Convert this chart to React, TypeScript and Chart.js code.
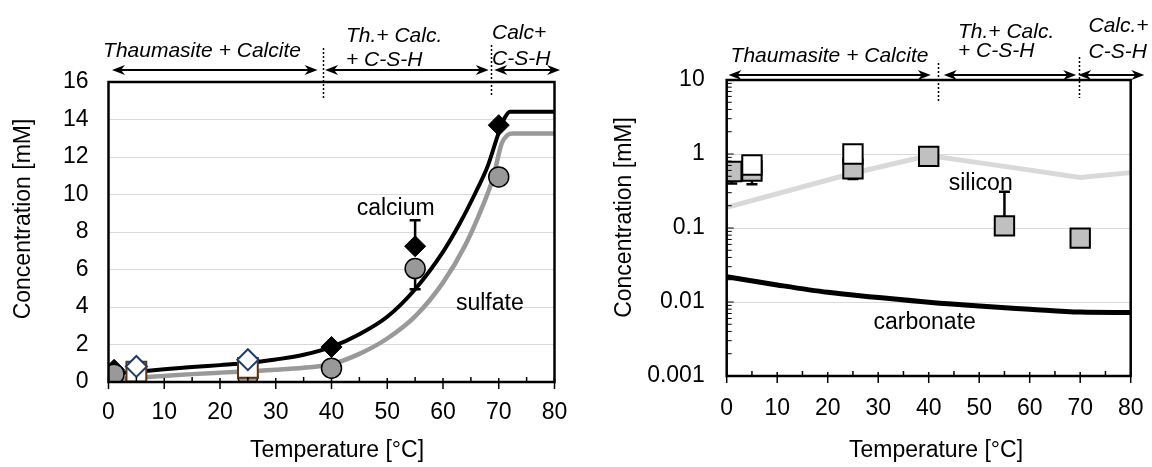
import React, { useEffect, useRef } from 'react';
import { Chart, registerables } from 'chart.js';

Chart.register(...registerables);

const FONT = "'Liberation Sans', Arial, Helvetica, sans-serif";

// ---------------- Left chart data (linear) ----------------
const caModelT = [0, 2, 5, 10, 15, 20, 25, 30, 35, 40, 45, 50, 55, 60, 63, 66, 68, 70, 71, 72, 80];
const caModelC = [0.42, 0.48, 0.55, 0.68, 0.8, 0.9, 1.01, 1.2, 1.45, 1.87, 2.55, 3.48, 4.95, 6.94, 8.45, 10.2, 11.5, 13.3, 14.05, 14.42, 14.42];
const so4ModelT = [0, 2, 5, 10, 15, 20, 25, 30, 35, 40, 45, 50, 55, 60, 64, 67, 69, 70.5, 71.5, 72.5, 80];
const so4ModelC = [0.12, 0.15, 0.22, 0.32, 0.42, 0.5, 0.57, 0.65, 0.76, 0.95, 1.5, 2.32, 3.5, 5.3, 7.3, 9.3, 10.9, 12.7, 13.15, 13.25, 13.25];
const caMeasT = [1, 40, 55, 70];
const caMeasC = [0.65, 1.87, 7.24, 13.7];
const so4MeasT = [1, 5, 25, 40, 55, 70];
const so4MeasC = [0.42, 0.2, 0.3, 0.74, 6.05, 10.94];
const openDiamondT = [5, 25];
const openDiamondC = [0.83, 1.19];
const openSquareT = [5, 25];
const openSquareC = [0.55, 0.75];
const leftErrT = [55, 55];
const leftErrFrom = [7.24, 6.05];
const leftErrTo = [8.63, 4.95];
const leftYTicks = [0, 2, 4, 6, 8, 10, 12, 14, 16];

// ---------------- Right chart data (log) ----------------
const siModelT = [0, 25, 40, 55, 70, 80];
const siModelC = [0.19, 0.55, 0.95, 0.68, 0.48, 0.56];
const co3ModelT = [0, 10, 20, 30, 40, 50, 60, 70, 80];
const co3ModelC = [0.022, 0.017, 0.0135, 0.0115, 0.0099, 0.0088, 0.008, 0.0073, 0.0072];
const siGreyT = [1, 5, 25, 40, 55, 70];
const siGreyC = [0.58, 0.59, 0.63, 0.93, 0.107, 0.073];
const siWhiteT = [5, 25];
const siWhiteC = [0.71, 1.0];
const rightErrT = [1, 5, 25, 55];
const rightErrFrom = [0.58, 0.59, 0.63, 0.107];
const rightErrTo = [0.4, 0.39, 0.46, 0.31];
const rightYTicks = [0.001, 0.01, 0.1, 1, 10];
const rightYTickLabels = ['0.001', '0.01', '0.1', '1', '10'];

const tempTicks = [0, 10, 20, 30, 40, 50, 60, 70, 80];

// phase annotations
const leftPhaseBounds = [38.53, 68.65];
const leftArrowSpans = [[0.63, 37.5], [38.85, 68.2], [69.2, 81.0]];
const leftPhaseText = [['Thaumasite + Calcite'], ['Th.+ Calc.', '+ C-S-H'], ['Calc+', 'C-S-H']];
const rightPhaseBounds = [41.9, 69.74];
const rightArrowSpans = [[0.36, 40.4], [43.0, 69.2], [69.6, 82.7]];
const rightPhaseText = [['Thaumasite + Calcite'], ['Th.+ Calc.', '+ C-S-H'], ['Calc.+', 'C-S-H']];

// curve labels
const leftCurveLabels = ['calcium', 'sulfate'];
const leftCurveLabelT = [51.5, 68.4];
const leftCurveLabelC = [9.26, 4.2];
const rightCurveLabels = ['silicon', 'carbonate'];
const rightCurveLabelT = [50.3, 39.2];
const rightCurveLabelC = [0.397, 0.00525];

const pts = (xs: number[], ys: number[]) => xs.map((x, i) => ({ x, y: ys[i] }));

type Layout = {
  padTop: number; padRight: number; yWidth: number; xHeight: number; xLabelPad: number;
  yTitle: { x: number; y: number }; xTitle: { x: number; y: number };
  arrowY: number; dots: [number, number][];
  textPos: { x: number; align: CanvasTextAlign; ys: number[] }[];
  logMinor: boolean;
};

function arrowHead(ctx: CanvasRenderingContext2D, x: number, y: number, dir: number) {
  const L = 13, W = 5, N = 4;
  ctx.beginPath();
  ctx.moveTo(x, y);
  ctx.lineTo(x - dir * L, y - W);
  ctx.lineTo(x - dir * (L - N), y);
  ctx.lineTo(x - dir * L, y + W);
  ctx.closePath();
  ctx.fill();
}

function makeDecor(opts: {
  layout: Layout;
  errT: number[]; errFrom: number[]; errTo: number[];
  bounds: number[]; spans: number[][]; phaseText: string[][];
  labels: string[]; labelT: number[]; labelC: number[];
}) {
  const L = opts.layout;
  return {
    id: 'decor',
    beforeDatasetsDraw(chart: any) {
      const ctx: CanvasRenderingContext2D = chart.ctx;
      const xs = chart.scales.x, ys = chart.scales.y;
      ctx.save();
      ctx.strokeStyle = '#000';
      ctx.lineWidth = 2.5;
      opts.errT.forEach((t, i) => {
        const px = xs.getPixelForValue(t);
        const p1 = ys.getPixelForValue(opts.errFrom[i]);
        const p2 = ys.getPixelForValue(opts.errTo[i]);
        ctx.beginPath();
        ctx.moveTo(px, p1); ctx.lineTo(px, p2);
        ctx.moveTo(px - 5.5, p2); ctx.lineTo(px + 5.5, p2);
        ctx.stroke();
      });
      ctx.restore();
    },
    afterDatasetsDraw(chart: any) {
      const ctx: CanvasRenderingContext2D = chart.ctx;
      const xs = chart.scales.x, ys = chart.scales.y;
      ctx.save();
      ctx.fillStyle = '#000';
      ctx.font = `23px ${FONT}`;
      ctx.textAlign = 'center';
      ctx.textBaseline = 'middle';
      opts.labels.forEach((s, i) => {
        ctx.fillText(s, xs.getPixelForValue(opts.labelT[i]), ys.getPixelForValue(opts.labelC[i]));
      });
      ctx.restore();
    },
    afterDraw(chart: any) {
      const ctx: CanvasRenderingContext2D = chart.ctx;
      const a = chart.chartArea;
      const xs = chart.scales.x, ys = chart.scales.y;
      ctx.save();
      // box
      ctx.strokeStyle = '#000';
      ctx.lineWidth = 2.5;
      ctx.strokeRect(a.left, a.top, a.right - a.left, a.bottom - a.top);
      // x ticks
      ctx.lineWidth = 1.5;
      for (let t = 0; t <= 80; t += 5) {
        const px = xs.getPixelForValue(t);
        ctx.beginPath();
        if (t % 10 === 0) { ctx.moveTo(px, a.bottom - 4); ctx.lineTo(px, a.bottom + 7); }
        else { ctx.moveTo(px, a.bottom - 5); ctx.lineTo(px, a.bottom); }
        ctx.stroke();
      }
      // log minor ticks
      if (L.logMinor) {
        ctx.lineWidth = 1;
        for (let d = 0; d < rightYTicks.length - 1; d++) {
          for (let k = 1; k <= 9; k++) {
            const py = ys.getPixelForValue(rightYTicks[d] * k);
            ctx.beginPath();
            ctx.moveTo(a.left, py); ctx.lineTo(a.left + (k === 1 ? 7 : 5), py);
            ctx.stroke();
          }
        }
      }
      // axis titles
      ctx.fillStyle = '#000';
      ctx.font = `23px ${FONT}`;
      ctx.textAlign = 'center';
      ctx.textBaseline = 'middle';
      ctx.fillText('Temperature [°C]', L.xTitle.x, L.xTitle.y);
      ctx.save();
      ctx.translate(L.yTitle.x, L.yTitle.y);
      ctx.rotate(-Math.PI / 2);
      ctx.fillText('Concentration [mM]', 0, 0);
      ctx.restore();
      // phase boundaries (dotted)
      ctx.lineWidth = 1.5;
      ctx.setLineDash([2, 2]);
      opts.bounds.forEach((b, i) => {
        const px = Math.round(xs.getPixelForValue(b)) + 0.5;
        ctx.beginPath();
        ctx.moveTo(px, L.dots[i][0]); ctx.lineTo(px, L.dots[i][1]);
        ctx.stroke();
      });
      ctx.setLineDash([]);
      // arrows
      ctx.lineWidth = 2;
      opts.spans.forEach(([s, e]) => {
        const x1 = xs.getPixelForValue(s), x2 = xs.getPixelForValue(e);
        ctx.beginPath();
        ctx.moveTo(x1 + 5, L.arrowY); ctx.lineTo(x2 - 5, L.arrowY);
        ctx.stroke();
        arrowHead(ctx, x1, L.arrowY, -1);
        arrowHead(ctx, x2, L.arrowY, 1);
      });
      // phase text
      ctx.font = `italic 21px ${FONT}`;
      ctx.textBaseline = 'alphabetic';
      opts.phaseText.forEach((lines, i) => {
        const p = L.textPos[i];
        ctx.textAlign = p.align;
        lines.forEach((s, j) => ctx.fillText(s, p.x, p.ys[j]));
      });
      ctx.restore();
    },
  };
}

function baseOptions(L: Layout, yScale: any) {
  return {
    responsive: false,
    animation: false,
    devicePixelRatio: 1,
    events: [],
    layout: { padding: { top: L.padTop, right: L.padRight, left: 0, bottom: 0 } },
    plugins: { legend: { display: false }, tooltip: { enabled: false } },
    scales: {
      x: {
        type: 'linear', min: 0, max: 80,
        afterBuildTicks: (s: any) => { s.ticks = tempTicks.map((v) => ({ value: v })); },
        ticks: { font: { family: FONT, size: 23 }, color: '#000', padding: L.xLabelPad, maxRotation: 0, autoSkip: false },
        grid: { display: false },
        border: { display: false },
        afterFit: (s: any) => { s.height = L.xHeight; s.paddingLeft = 0; s.paddingRight = 0; },
      },
      y: {
        ...yScale,
        grid: { color: '#d9d9d9', lineWidth: 1, drawTicks: false },
        border: { display: false },
        afterFit: (s: any) => { s.width = L.yWidth; s.paddingTop = 0; s.paddingBottom = 0; },
      },
    },
  };
}

const leftLayout: Layout = {
  padTop: 82, padRight: 21.5, yWidth: 108.5, xHeight: 85, xLabelPad: 8.5,
  yTitle: { x: 24, y: 219 }, xTitle: { x: 337, y: 451 },
  arrowY: 70, dots: [[48, 98], [45, 95]],
  textPos: [
    { x: 202, align: 'center', ys: [56.5] },
    { x: 346, align: 'left', ys: [41.5, 65.5] },
    { x: 492, align: 'left', ys: [38.5, 65] },
  ],
  logMinor: false,
};

const rightLayout: Layout = {
  padTop: 80, padRight: 21.3, yWidth: 150.7, xHeight: 91, xLabelPad: 11,
  yTitle: { x: 48.7, y: 217.5 }, xTitle: { x: 360, y: 451 },
  arrowY: 75, dots: [[63, 103], [57, 98]],
  textPos: [
    { x: 253.5, align: 'center', ys: [61.5] },
    { x: 382, align: 'left', ys: [38, 57] },
    { x: 512.5, align: 'left', ys: [31.5, 58] },
  ],
  logMinor: true,
};

function LeftChart() {
  const ref = useRef<HTMLCanvasElement>(null);
  useEffect(() => {
    const c = ref.current!;
    const chart = new Chart(c, {
      type: 'scatter',
      data: {
        datasets: [
          { label: 'open diamond', data: pts(openDiamondT, openDiamondC), pointStyle: 'rectRot', pointRadius: 10.5, backgroundColor: '#ffffff', borderColor: '#1f3d6b', borderWidth: 2, order: 1 },
          { label: 'open square', data: pts(openSquareT, openSquareC), pointStyle: 'rect', pointRadius: 14, backgroundColor: '#ffffff', borderColor: '#5c3310', borderWidth: 2, order: 2 },
          { label: 'sulfate measured', data: pts(so4MeasT, so4MeasC), pointStyle: 'circle', pointRadius: 10, backgroundColor: '#999999', borderColor: '#000000', borderWidth: 1.5, order: 3 },
          { label: 'calcium measured', data: pts(caMeasT, caMeasC), pointStyle: 'rectRot', pointRadius: 10.5, backgroundColor: '#000000', borderColor: '#000000', borderWidth: 1, order: 4 },
          { label: 'calcium model', data: pts(caModelT, caModelC), showLine: true, pointRadius: 0, borderColor: '#000000', borderWidth: 4, cubicInterpolationMode: 'monotone', order: 5 },
          { label: 'sulfate model', data: pts(so4ModelT, so4ModelC), showLine: true, pointRadius: 0, borderColor: '#999999', borderWidth: 4.5, cubicInterpolationMode: 'monotone', order: 6 },
        ] as any,
      },
      options: baseOptions(leftLayout, {
        type: 'linear', min: 0, max: 16,
        afterBuildTicks: (s: any) => { s.ticks = leftYTicks.map((v) => ({ value: v })); },
        ticks: { font: { family: FONT, size: 23 }, color: '#000', padding: 20 },
      }) as any,
      plugins: [makeDecor({
        layout: leftLayout, errT: leftErrT, errFrom: leftErrFrom, errTo: leftErrTo,
        bounds: leftPhaseBounds, spans: leftArrowSpans, phaseText: leftPhaseText,
        labels: leftCurveLabels, labelT: leftCurveLabelT, labelC: leftCurveLabelC,
      })],
    });
    return () => chart.destroy();
  }, []);
  return <canvas ref={ref} width={576} height={467} style={{ position: 'absolute', left: 0, top: 0, width: 576, height: 467 }} />;
}

function RightChart() {
  const ref = useRef<HTMLCanvasElement>(null);
  useEffect(() => {
    const c = ref.current!;
    const chart = new Chart(c, {
      type: 'scatter',
      data: {
        datasets: [
          { label: 'silicon measured (open)', data: pts(siWhiteT, siWhiteC), pointStyle: 'rect', pointRadius: 13.7, backgroundColor: '#ffffff', borderColor: '#000000', borderWidth: 2, order: 1 },
          { label: 'silicon measured', data: pts(siGreyT, siGreyC), pointStyle: 'rect', pointRadius: 13.7, backgroundColor: '#c0c0c0', borderColor: '#000000', borderWidth: 2, order: 2 },
          { label: 'silicon model', data: pts(siModelT, siModelC), showLine: true, pointRadius: 0, borderColor: '#d9d9d9', borderWidth: 5, tension: 0, order: 3 },
          { label: 'carbonate model', data: pts(co3ModelT, co3ModelC), showLine: true, pointRadius: 0, borderColor: '#000000', borderWidth: 5, cubicInterpolationMode: 'monotone', order: 4 },
        ] as any,
      },
      options: baseOptions(rightLayout, {
        type: 'logarithmic', min: 0.001, max: 10,
        afterBuildTicks: (s: any) => { s.ticks = rightYTicks.map((v) => ({ value: v })); },
        ticks: {
          font: { family: FONT, size: 23 }, color: '#000', padding: 22,
          callback: (v: number) => { const i = rightYTicks.indexOf(v); return i >= 0 ? rightYTickLabels[i] : ''; },
        },
      }) as any,
      plugins: [makeDecor({
        layout: rightLayout, errT: rightErrT, errFrom: rightErrFrom, errTo: rightErrTo,
        bounds: rightPhaseBounds, spans: rightArrowSpans, phaseText: rightPhaseText,
        labels: rightCurveLabels, labelT: rightCurveLabelT, labelC: rightCurveLabelC,
      })],
    });
    return () => chart.destroy();
  }, []);
  return <canvas ref={ref} width={576} height={467} style={{ position: 'absolute', left: 576, top: 0, width: 576, height: 467 }} />;
}

export default function App() {
  return (
    <div style={{ position: 'absolute', left: 0, top: 0, width: 1152, height: 467, background: '#ffffff', overflow: 'hidden' }}>
      <LeftChart />
      <RightChart />
    </div>
  );
}
